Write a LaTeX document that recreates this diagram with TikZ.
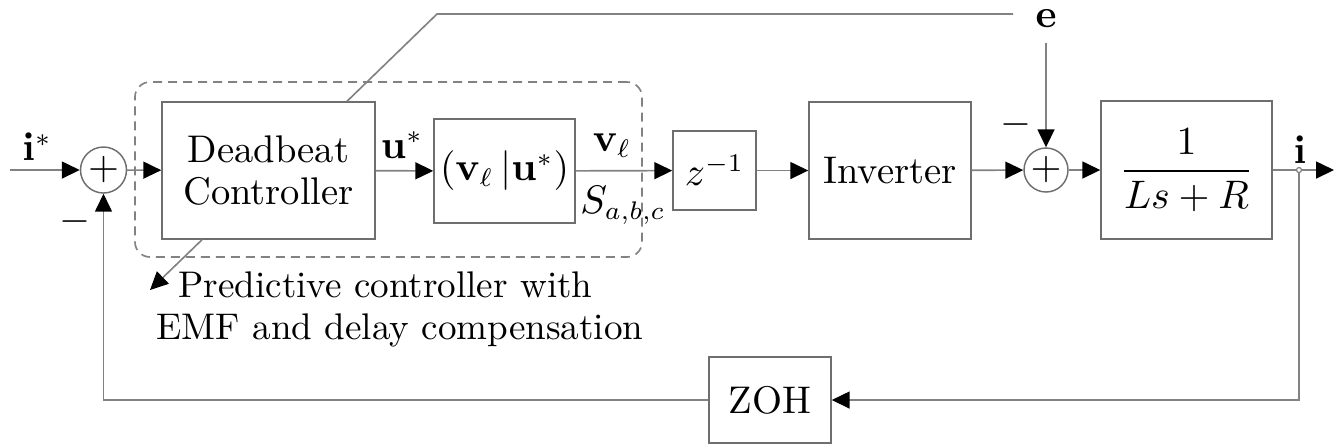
\documentclass[tikz,border=0pt]{standalone}
\usepackage{amsmath}
\usetikzlibrary{arrows.meta}
\definecolor{lg}{RGB}{130,130,130}
\definecolor{bg}{RGB}{110,110,110}
\newcommand\pxu{0.275pt}
\begin{document}
\begin{tikzpicture}[x=0.275pt,y=-0.275pt,
  font=\fontsize{10.6}{11.8}\selectfont,
  blk/.style={draw=bg,line width=0.4pt,inner sep=0pt,align=center},
  sumc/.style={draw=bg,line width=0.4pt,circle,inner sep=0pt,minimum size=46*\pxu},
  ln/.style={draw=lg,line width=0.45pt},
  arr/.style={ln,-{Triangle[length=18*\pxu,width=17*\pxu,color=black]}},
  lbl/.style={inner sep=0pt}]
\useasboundingbox (0,0) rectangle (1334,445);
% group box
\node[draw=lg,line width=0.45pt,dash pattern=on 9*\pxu off 6*\pxu,rounded corners=15*\pxu,
  minimum width=507*\pxu,minimum height=175*\pxu,inner sep=0pt] (grp) at (388.5,169.5) {};
% blocks
\node[sumc] (s1) at (103.5,170) {$+$};
\node[blk,minimum width=213*\pxu,minimum height=137*\pxu] (dead) at (268.5,170.5) {Deadbeat\\Controller};
\node[blk,minimum width=141*\pxu,minimum height=104*\pxu] (vb) at (504.5,171) {$(\mathbf{v}_\ell\,|\mathbf{u}^*)$};
\node[blk,minimum width=83*\pxu,minimum height=79*\pxu] (zi) at (714.5,170.5) {$z^{-1}$};
\node[blk,minimum width=162*\pxu,minimum height=137*\pxu] (inv) at (890,170.5) {Inverter};
\node[sumc,minimum size=44*\pxu] (s2) at (1046,170) {$+$};
\node[blk,minimum width=171*\pxu,minimum height=138*\pxu] (pl) at (1186.5,170) {$\dfrac{1}{Ls+R}$};
\node[blk,minimum width=122*\pxu,minimum height=86*\pxu] (zoh) at (770,400) {ZOH};
% labels
\node[lbl] (listar) at (37,147) {$\mathbf{i}^*$};
\node[lbl] (m1) at (75,222) {$-$};
\node[lbl] (ustar) at (402,145) {$\mathbf{u}^*$};
\node[lbl] (vl) at (612,146) {$\mathbf{v}_\ell$};
\node[lbl] (sabc) at (623,205) {$S_{a,b,c}$};
\node[lbl] (m2) at (1016,125) {$-$};
\node[lbl] (iout) at (1300,150) {$\mathbf{i}$};
\node[lbl] (e) at (1046,18.5) {$\mathbf{e}$};
\node[lbl,align=center,font=\fontsize{10.2}{11.6}\selectfont] (pred) at (400,309)
  {Predictive controller with\hspace*{8pt}\\EMF and delay compensation};
% coordinates
\coordinate (in) at (10,170);
\coordinate (j) at (1299,170);
\coordinate (out) at (1334,170);
\coordinate (fbr) at (1299,400);
\coordinate (fbl) at (103.5,400);
\coordinate (eleft) at (1013,14);
\coordinate (ecorner) at (437,14);
\coordinate (dtop) at ([xshift=78.5*\pxu]dead.north);
\coordinate (dbot) at ([xshift=-66.5*\pxu]dead.south);
\coordinate (ptip) at (150,290);
% connectors
\draw[arr] (in) -- (s1);
\draw[arr] (s1) -- (dead);
\draw[arr] (dead) -- (vb);
\draw[arr] (vb) -- (zi);
\draw[arr] (zi) -- (inv);
\draw[arr] (inv) -- (s2);
\draw[arr] ([yshift=-15*\pxu]e.south) -- (s2);
\draw[arr] (s2) -- (pl);
\draw[arr] (pl.east) -- (out);
\draw[arr] (j) -- (fbr) -- (zoh.east);
\draw[arr] (zoh.west) -- (fbl) -- (s1.south);
\draw[ln] (eleft) -- (ecorner) -- (dtop);
\draw[arr] (dbot) -- (ptip);
\draw[lg,fill=white,line width=0.35pt] (j) circle (2.5*\pxu);
\end{tikzpicture}
\end{document}
